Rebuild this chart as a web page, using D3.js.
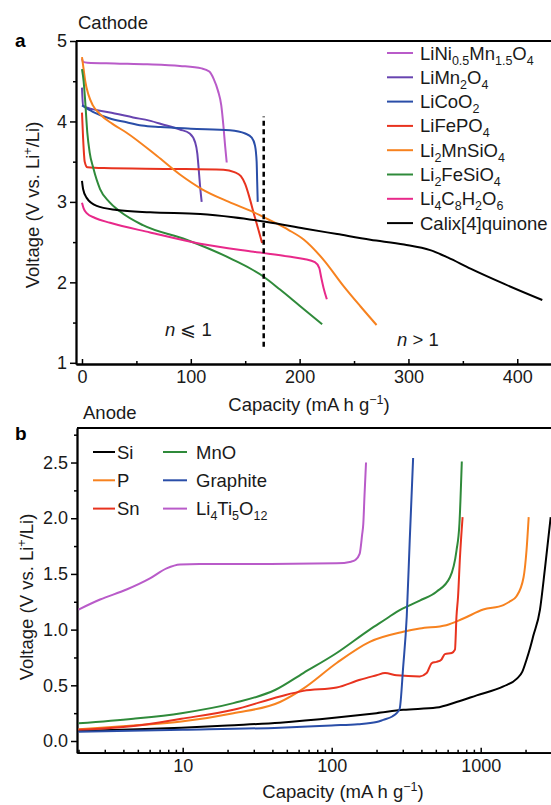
<!DOCTYPE html>
<html>
<head>
<meta charset="utf-8">
<script src="https://cdn.jsdelivr.net/npm/d3@7/dist/d3.min.js"></script>
<style>
  body { margin: 0; background: #fff; }
  svg { display: block; }
</style>
</head>
<body>
<div id="chart"></div>
<script>
// ---- panel a: cathodes (capacity mA h g-1, voltage V) ----
const cathodeNames = ["LiNi_{0.5}Mn_{1.5}O_{4}", "LiMn_{2}O_{4}", "LiCoO_{2}", "LiFePO_{4}",
  "Li_{2}MnSiO_{4}", "Li_{2}FeSiO_{4}", "Li_{4}C_{8}H_{2}O_{6}", "Calix[4]quinone"];
const cathodeColors = ["#b95bc9", "#6744b0", "#2a4ea8", "#e8331f", "#f7821f", "#2f8a3a", "#e8298a", "#000000"];

const liNiMn = [[0,4.78],[1,4.74],[5,4.73],[30,4.72],[60,4.71],[90,4.69],[110,4.66],[117,4.62],[121,4.53],
  [125,4.38],[128,4.2],[130,3.94],[131.5,3.7],[133,3.49]];
const liMn2O4 = [[0,4.42],[1,4.2],[5,4.17],[14,4.14],[30,4.1],[47,4.05],[62,4.01],[75,3.96],[90,3.9],
  [99,3.85],[104,3.74],[106,3.6],[107,3.45],[108.5,3.2],[110,3.0]];
const liCoO2 = [[0,4.2],[10,4.12],[25,4.04],[41,3.99],[55,3.95],[72,3.93],[100,3.91],[136,3.89],[150,3.85],
  [156,3.8],[159,3.7],[160.5,3.5],[161,3.25],[161.5,3.0]];
const liFePO4 = [[0,4.11],[1,3.8],[2.5,3.5],[5,3.43],[20,3.42],[80,3.41],[130,3.4],[140,3.37],[146,3.32],
  [150,3.22],[154,3.05],[158,2.85],[162,2.66],[165.5,2.49]];
const li2MnSiO4 = [[0,4.8],[1.5,4.65],[3,4.5],[6,4.33],[10,4.2],[16.6,4.09],[28,3.97],[41,3.86],[69,3.57],
  [90,3.34],[110,3.16],[135,3.0],[158,2.87],[173,2.77],[190,2.65],[204,2.53],[222,2.28],[240,1.96],[256,1.7],
  [270.7,1.47]];
const li2FeSiO4 = [[0,4.65],[1.5,4.5],[2.8,4.28],[4.9,3.86],[7,3.62],[10.4,3.42],[16.6,3.16],[25,3.0],[35,2.88],
  [56,2.71],[96,2.53],[139,2.28],[167,2.07],[182,1.91],[200,1.71],[220.7,1.48]];
const li4C8H2O6 = [[0,2.99],[1.5,2.92],[4.3,2.86],[12,2.8],[25.8,2.74],[62.6,2.62],[108.7,2.48],[157.7,2.38],
  [190,2.32],[204,2.29],[214,2.25],[218,2.18],[220,2.05],[222,1.93],[225,1.79]];
const calixQuinone = [[0,3.26],[1,3.16],[4.3,3.05],[13.5,2.95],[32,2.9],[62.6,2.87],[108.7,2.85],[139,2.81],
  [170,2.75],[204,2.67],[234.5,2.6],[265,2.53],[296,2.47],[320,2.4],[336,2.31],[357,2.17],[388,1.98],[423,1.78]];
const cathodeSeries = [liNiMn, liMn2O4, liCoO2, liFePO4, li2MnSiO4, li2FeSiO4, li4C8H2O6, calixQuinone];

const capTicks = [0, 100, 200, 300, 400];
const capMinor = [50, 150, 250, 350];
const voltTicksA = [1, 2, 3, 4, 5];
const voltMinorA = [1.5, 2.5, 3.5, 4.5];
const dividerCap = 167;
const dividerVolt = [1.2, 4.06];

// ---- panel b: anodes ----
const anodeNames = ["Si", "P", "Sn", "MnO", "Graphite", "Li_{4}Ti_{5}O_{12}"];
const anodeColors = ["#000000", "#f7821f", "#e8331f", "#2f8a3a", "#2a4ea8", "#b95bc9"];

const si = [[2,0.09],[5,0.105],[9.8,0.12],[20,0.14],[45,0.164],[108,0.21],[200,0.25],[302,0.28],[505,0.3],
  [688,0.35],[940,0.41],[1420,0.49],[1750,0.56],[1900,0.62],[2030,0.73],[2150,0.84],[2250,0.94],[2500,1.18],
  [2700,1.55],[2950,2.01]];
const phos = [[2,0.105],[4.67,0.14],[9.8,0.175],[21.9,0.25],[45,0.35],[64.5,0.47],[108,0.7],[180,0.89],
  [302,0.98],[390,1.01],[587,1.04],[765,1.1],[1040,1.18],[1420,1.22],[1560,1.25],[1740,1.3],[1940,1.47],
  [2030,1.71],[2100,2.01]];
const tin = [[2,0.1],[4.67,0.135],[9.8,0.2],[21.9,0.28],[45,0.4],[64.5,0.45],[108,0.48],[155,0.55],[200,0.59],
  [228,0.61],[273,0.59],[390,0.58],[434,0.61],[470,0.7],[505,0.71],[544,0.73],[575,0.78],[639,0.79],[672,0.82],
  [688,1.12],[705,1.3],[726,1.65],[756,2.01]];
const mnO = [[2,0.159],[4.67,0.2],[9.8,0.25],[21.9,0.34],[42,0.46],[64.5,0.61],[108,0.79],[180,1.0],[234,1.1],
  [273,1.16],[390,1.26],[505,1.34],[622,1.47],[688,1.71],[720,1.95],[747,2.51]];
const graphite = [[2,0.083],[10,0.1],[45,0.12],[100,0.14],[150,0.15],[200,0.17],[222,0.19],[255,0.22],
  [273,0.25],[286,0.29],[302,0.67],[319,1.12],[334,1.8],[352,2.54]];
const li4Ti5O12 = [[2,1.18],[2.79,1.27],[4.2,1.36],[6.03,1.46],[7.8,1.55],[9.6,1.585],[13,1.59],[38.5,1.59],
  [108,1.595],[135,1.61],[144,1.625],[154,1.68],[160,1.85],[163,1.95],[166,2.2],[170,2.5]];
const anodeSeries = [si, phos, tin, mnO, graphite, li4Ti5O12];

const logTicks = [10, 100, 1000];
const logMinor = [2,3,4,5,6,7,8,9,20,30,40,50,60,70,80,90,200,300,400,500,600,700,800,900,2000];
const voltTicksB = [0, 0.5, 1.0, 1.5, 2.0, 2.5];
const voltMinorB = [0.25, 0.75, 1.25, 1.75, 2.25, 2.75];

const SIZE = { width: 551, height: 805 };
const FONT = "'Liberation Sans', Arial, Helvetica, sans-serif";

const svg = d3.select("#chart").append("svg")
    .attr("width", SIZE.width)
    .attr("height", SIZE.height)
    .style("font-family", FONT);

// text with _{sub} and ^{sup} markup
function rich(text, str, small){
  const parts = str.match(/[_^]\{[^}]*\}|[^_^]+/g);
  let shift = 0;
  parts.forEach(p => {
    let target = 0, content = p, size = null;
    if (p[0] === "_") { content = p.slice(2, -1); target = 5; size = small; }
    else if (p[0] === "^") { content = p.slice(2, -1); target = -7; size = small; }
    const t = text.append("tspan").text(content).attr("dy", target - shift);
    if (size) t.attr("font-size", size);
    shift = target;
  });
}

function styleAxis(g){
  g.select(".domain").attr("stroke", "#000").attr("stroke-width", 1.8);
  g.selectAll(".tick line").attr("stroke", "#000").attr("stroke-width", 1.5);
  g.selectAll(".tick text").attr("fill", "#1a1a1a").attr("font-size", 18).attr("font-family", FONT);
}

function panel(opt){
  const g = svg.append("g");
  const x = opt.x, y = opt.y;
  const [x0, x1] = x.range();
  const [yb, yt] = y.range();

  // minor ticks
  g.append("g").attr("transform", `translate(0,${yb})`)
    .call(d3.axisBottom(x).tickValues(opt.xMinor).tickSizeInner(-3).tickSizeOuter(0).tickFormat(""))
    .call(styleAxis);
  g.append("g").attr("transform", `translate(${x0},0)`)
    .call(d3.axisLeft(y).tickValues(opt.yMinor).tickSizeInner(3).tickSizeOuter(0).tickFormat(""))
    .call(styleAxis);
  // major ticks
  g.append("g").attr("transform", `translate(0,${yb})`)
    .call(d3.axisBottom(x).tickValues(opt.xTicks).tickSizeInner(-5).tickSizeOuter(0)
      .tickPadding(opt.xPad).tickFormat(d3.format("d")))
    .call(styleAxis);
  g.append("g").attr("transform", `translate(${x0},0)`)
    .call(d3.axisLeft(y).tickValues(opt.yTicks).tickSizeInner(6).tickSizeOuter(0)
      .tickPadding(3).tickFormat(opt.yFormat))
    .call(styleAxis);
  // top border
  g.append("line").attr("x1", x0).attr("x2", x1).attr("y1", yt).attr("y2", yt)
    .attr("stroke", "#000").attr("stroke-width", 1.8);

  const line = d3.line().x(d => x(d[0])).y(d => y(d[1])).curve(d3.curveMonotoneX);
  g.append("g").selectAll("path").data(opt.series).enter().append("path")
    .attr("d", line)
    .attr("fill", "none")
    .attr("stroke", (_, i) => opt.colors[i])
    .attr("stroke-width", 2)
    .attr("stroke-linejoin", "round");

  // legend
  const lg = g.append("g").selectAll("g").data(opt.names).enter().append("g")
    .attr("transform", (_, i) => `translate(${opt.legendPos(i).join(",")})`);
  lg.append("line").attr("x1", 0).attr("x2", (_, i) => opt.legendLen(i)).attr("y1", 0).attr("y2", 0)
    .attr("stroke", (_, i) => opt.colors[i]).attr("stroke-width", 2);
  lg.append("text").attr("x", (_, i) => opt.legendGap(i)).attr("y", 6.5)
    .attr("font-size", 18.5).attr("fill", "#1a1a1a")
    .each(function(d){ rich(d3.select(this), d, 12.5); });

  // axis titles
  const xt = g.append("text").attr("x", opt.xTitle[0]).attr("y", opt.xTitle[1])
    .attr("text-anchor", "middle").attr("font-size", 18.5).attr("fill", "#1a1a1a");
  rich(xt, "Capacity (mA h g^{−1})", 12.5);
  const yt2 = g.append("text").attr("transform", `translate(${opt.yTitle[0]},${opt.yTitle[1]}) rotate(-90)`)
    .attr("text-anchor", "middle").attr("font-size", 18.5).attr("fill", "#1a1a1a");
  rich(yt2, "Voltage (V vs. Li^{+}/Li)", 12.5);

  g.append("text").attr("x", 15).attr("y", opt.letter[1]).attr("font-size", 19)
    .attr("font-weight", "bold").text(opt.letter[0]);
  g.append("text").attr("x", opt.label[1]).attr("y", opt.label[2]).attr("font-size", 18.5)
    .attr("fill", "#1a1a1a").text(opt.label[0]);
  return g;
}

const xA = d3.scaleLinear().domain([-5.5, 431]).range([76, 551]);
const yA = d3.scaleLinear().domain([0.985, 5]).range([364, 41]);
const gA = panel({
  x: xA, y: yA, series: cathodeSeries, colors: cathodeColors, names: cathodeNames,
  xTicks: capTicks, xMinor: capMinor, yTicks: voltTicksA, yMinor: voltMinorA,
  yFormat: d3.format("d"), xPad: 6,
  legendPos: i => [387, 53 + i * 24.3], legendLen: () => 26, legendGap: () => 33,
  xTitle: [309, 411], yTitle: [39, 205],
  letter: ["a", 47], label: ["Cathode", 78, 29],
});

gA.append("line")
  .attr("x1", xA(dividerCap)).attr("x2", xA(dividerCap))
  .attr("y1", yA(dividerVolt[0])).attr("y2", yA(dividerVolt[1]))
  .attr("stroke", "#000").attr("stroke-width", 2.5).attr("stroke-dasharray", "5,3.5");

const nLe = gA.append("text").attr("x", 165).attr("y", 336).attr("font-size", 18.5).attr("fill", "#1a1a1a");
nLe.append("tspan").attr("font-style", "italic").text("n");
nLe.append("tspan").text(" \u2A7D 1");
const nGt = gA.append("text").attr("x", 397).attr("y", 346).attr("font-size", 18.5).attr("fill", "#1a1a1a");
nGt.append("tspan").attr("font-style", "italic").text("n");
nGt.append("tspan").text(" > 1");

const xB = d3.scaleLog().domain([1.953, 2964]).range([77, 551]);
const yB = d3.scaleLinear().domain([-0.105, 2.81]).range([752.7, 428]);
panel({
  x: xB, y: yB, series: anodeSeries, colors: anodeColors, names: anodeNames,
  xTicks: logTicks, xMinor: logMinor, yTicks: voltTicksB, yMinor: voltMinorB,
  yFormat: d3.format(".1f"), xPad: 7,
  legendPos: i => [i < 3 ? 93 : 163, 452 + (i % 3) * 28.3],
  legendLen: i => (i < 3 ? 22 : 24), legendGap: i => (i < 3 ? 24 : 33),
  xTitle: [343, 798], yTitle: [33, 597],
  letter: ["b", 440], label: ["Anode", 83, 419],
});
</script>
</body>
</html>
